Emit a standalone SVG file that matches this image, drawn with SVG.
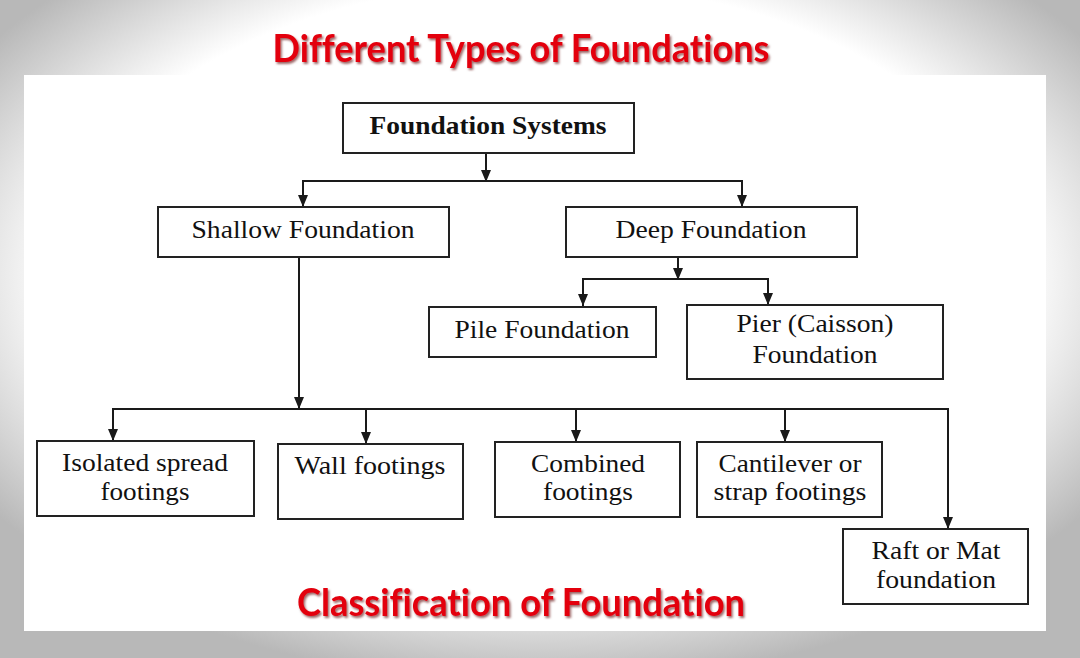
<svg xmlns="http://www.w3.org/2000/svg" width="1080" height="658" viewBox="0 0 1080 658">
<defs>
<radialGradient id="bg" cx="0.5" cy="0.42" r="0.62" gradientUnits="objectBoundingBox">
<stop offset="0" stop-color="#ffffff"/>
<stop offset="0.72" stop-color="#ffffff"/>
<stop offset="1" stop-color="#b8b8b8"/>
</radialGradient>
<marker id="arr" viewBox="0 0 12 10" markerWidth="12" markerHeight="10" refX="12" refY="5" orient="auto" markerUnits="userSpaceOnUse">
<path d="M0,0 L12,5 L0,10 z" fill="#1a1a1a"/>
</marker>
<filter id="sh" x="-5%" y="-20%" width="110%" height="150%">
<feDropShadow dx="1.5" dy="2" stdDeviation="1.2" flood-color="#5a0000" flood-opacity="0.6"/>
</filter>
</defs>
<style>
.box{fill:#ffffff;stroke:#222222;stroke-width:2}
.t{font-family:"Liberation Serif","Times New Roman",serif;font-size:26px;fill:#111111;text-anchor:middle}
.tb{font-weight:bold;font-size:25px}
.title{font-family:Lato,"Open Sans","Liberation Sans",sans-serif;font-weight:bold;font-size:38px;fill:#e3000f;text-anchor:middle;font-variant-ligatures:none;font-feature-settings:"liga" 0}
.ln{fill:none;stroke:#1a1a1a;stroke-width:2}
.la{fill:none;stroke:#1a1a1a;stroke-width:2;marker-end:url(#arr)}
</style>
<rect x="0" y="0" width="1080" height="658" fill="url(#bg)"/>
<rect x="24" y="75" width="1022" height="556" fill="#ffffff"/>
<g id="titles">
<text class="title" x="521" y="62" textLength="497" lengthAdjust="spacingAndGlyphs" filter="url(#sh)">Different Types of Foundations</text>
<text class="title" x="521" y="616" textLength="448" lengthAdjust="spacingAndGlyphs" filter="url(#sh)">Classification of Foundation</text>
</g>
<g id="connectors">
<line class="la" x1="486" y1="153" x2="486" y2="182"/>
<line class="ln" x1="302" y1="181" x2="743" y2="181"/>
<line class="la" x1="303" y1="181" x2="303" y2="207"/>
<line class="la" x1="742" y1="181" x2="742" y2="207"/>
<line class="la" x1="678" y1="257" x2="678" y2="280"/>
<line class="ln" x1="582" y1="279" x2="769" y2="279"/>
<line class="la" x1="583" y1="279" x2="583" y2="306"/>
<line class="la" x1="768" y1="279" x2="768" y2="305"/>
<line class="la" x1="299" y1="257" x2="299" y2="409"/>
<line class="ln" x1="112" y1="409" x2="949" y2="409"/>
<line class="la" x1="113" y1="409" x2="113" y2="441"/>
<line class="la" x1="366" y1="409" x2="366" y2="444"/>
<line class="la" x1="576" y1="409" x2="576" y2="442"/>
<line class="la" x1="785" y1="409" x2="785" y2="442"/>
<line class="la" x1="948" y1="409" x2="948" y2="529"/>
</g>
<g id="foundation-systems">
<rect class="box" x="343" y="103" width="291" height="50"/>
<text class="t tb" x="488" y="134" textLength="237" lengthAdjust="spacingAndGlyphs">Foundation Systems</text>
</g>
<g id="shallow">
<rect class="box" x="158" y="207" width="291" height="50"/>
<text class="t" x="303" y="238" textLength="223" lengthAdjust="spacingAndGlyphs">Shallow Foundation</text>
</g>
<g id="deep">
<rect class="box" x="566" y="207" width="291" height="50"/>
<text class="t" x="711" y="238" textLength="191" lengthAdjust="spacingAndGlyphs">Deep Foundation</text>
</g>
<g id="pile">
<rect class="box" x="429" y="307" width="227" height="50"/>
<text class="t" x="542" y="338" textLength="175" lengthAdjust="spacingAndGlyphs">Pile Foundation</text>
</g>
<g id="pier">
<rect class="box" x="687" y="305" width="256" height="74"/>
<text class="t" x="815" y="332" textLength="157" lengthAdjust="spacingAndGlyphs">Pier (Caisson)</text>
<text class="t" x="815" y="363" textLength="125" lengthAdjust="spacingAndGlyphs">Foundation</text>
</g>
<g id="isolated">
<rect class="box" x="37" y="441" width="217" height="75"/>
<text class="t" x="145" y="471" textLength="166" lengthAdjust="spacingAndGlyphs">Isolated spread</text>
<text class="t" x="145" y="500" textLength="89" lengthAdjust="spacingAndGlyphs">footings</text>
</g>
<g id="wall">
<rect class="box" x="278" y="444" width="185" height="75"/>
<text class="t" x="370" y="474" textLength="151" lengthAdjust="spacingAndGlyphs">Wall footings</text>
</g>
<g id="combined">
<rect class="box" x="495" y="442" width="185" height="75"/>
<text class="t" x="588" y="472" textLength="114" lengthAdjust="spacingAndGlyphs">Combined</text>
<text class="t" x="588" y="500" textLength="90" lengthAdjust="spacingAndGlyphs">footings</text>
</g>
<g id="cantilever">
<rect class="box" x="697" y="442" width="185" height="75"/>
<text class="t" x="790" y="472" textLength="143" lengthAdjust="spacingAndGlyphs">Cantilever or</text>
<text class="t" x="790" y="500" textLength="153" lengthAdjust="spacingAndGlyphs">strap footings</text>
</g>
<g id="raft">
<rect class="box" x="843" y="529" width="185" height="75"/>
<text class="t" x="936" y="559" textLength="129" lengthAdjust="spacingAndGlyphs">Raft or Mat</text>
<text class="t" x="936" y="588" textLength="120" lengthAdjust="spacingAndGlyphs">foundation</text>
</g>
</svg>
